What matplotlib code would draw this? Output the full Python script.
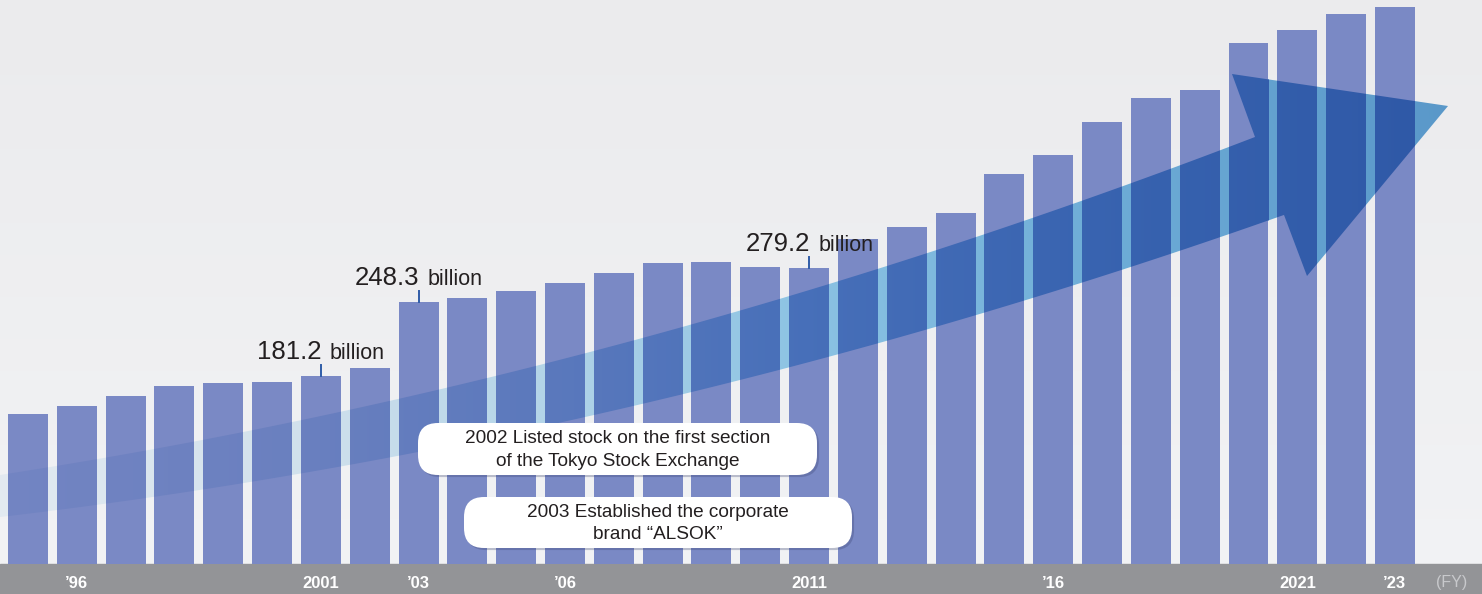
import numpy as np
import matplotlib
matplotlib.use("Agg")
import matplotlib.pyplot as plt
from matplotlib.path import Path
from matplotlib.patches import PathPatch, FancyBboxPatch, Rectangle
import matplotlib.patheffects as pe

plt.rcParams['font.family'] = ['Liberation Sans', 'DejaVu Sans']

# net sales, billion yen (FY)
years = list(range(1995, 2024))
sales = [146.5, 153.8, 162.8, 171.9, 174.6, 175.5, 181.2, 188.2, 248.3, 251.9,
         258.3, 265.5, 274.6, 283.7, 284.6, 279.5, 279.2, 305.0, 316.0, 328.7,
         364.0, 381.2, 411.1, 432.9, 440.1, 482.7, 494.5, 509.0, 515.3]
tick_years = [1996, 2001, 2003, 2006, 2011, 2016, 2021, 2023]
tick_labels = ["\u201996", "2001", "\u201903", "\u201906", "2011", "\u201916", "2021", "\u201923"]
mark_years = [2001, 2003, 2011]
mark_values = [181.2, 248.3, 279.2]
events = ["2002 Listed stock on the first section\nof the Tokyo Stock Exchange",
          "2003 Established the corporate\nbrand \u201cALSOK\u201d"]

W, H = 1482, 594
BAR_RGB = np.array([122, 137, 197])
fig = plt.figure(figsize=(W / 100, H / 100), dpi=100)

# background layer in pixel coords
ax_bg = fig.add_axes([0, 0, 1, 1], zorder=0)
ax_bg.set_xlim(0, W)
ax_bg.set_ylim(H, 0)
ax_bg.axis('off')

t = np.linspace(0, 1, H)[:, None, None]
bg_top = np.array([235, 235, 237])
bg_bot = np.array([242, 243, 245])
bg = bg_top + (bg_bot - bg_top) * t  # (H,1,3)
ax_bg.imshow(bg / 255, extent=[0, W, H, 0], aspect='auto', interpolation='bilinear', zorder=0)
ax_bg.add_patch(Rectangle((0, 564), W, 30, color='#939497', zorder=1))

# big arrow (decoration)
def up_edge(x):
    return 475 - 0.1545 * x - 9.15e-5 * x ** 2

def lo_edge(x):
    return 517 - 0.117 * x - 9.21e-5 * x ** 2

xu = np.linspace(-5, 1255, 80)
xl = np.linspace(1284, -5, 80)
verts = list(zip(xu, up_edge(xu))) + [(1232, 74), (1448, 106), (1307, 276)] + list(zip(xl, lo_edge(xl)))
verts.append(verts[0])
arrow = PathPatch(Path(verts, closed=True), transform=ax_bg.transData, fc='none', ec='none')

stop_x = [0, 300, 550, 800, 1100, 1482]
stop_c = np.array([[240, 247, 252], [222, 238, 248], [190, 225, 244],
                   [150, 208, 240], [118, 185, 228], [95, 162, 214]])

def tint(px):
    return np.stack([np.interp(px, stop_x, stop_c[:, k]) for k in range(3)], -1)

light = tint(np.arange(W) + 0.5)[None, :, :] * bg / 255 / 255
im = ax_bg.imshow(light, extent=[0, W, H, 0], aspect='auto', zorder=2)
im.set_clip_path(arrow)

# bars
ax = fig.add_axes([0, 30 / H, 1, 564 / H], zorder=1)
ax.patch.set_alpha(0)
ax.set_xlim(1995 - 28 / 48.82, 1995 + (W - 28) / 48.82)
ax.set_ylim(10.6, 521.7)
bars = ax.bar(years, sales, width=40 / 48.82, color=BAR_RGB / 255, zorder=2)

for rect in bars:
    x0 = rect.get_x()
    x1 = x0 + rect.get_width()
    p0 = ax.transData.transform((x0, 0))[0]
    p1 = ax.transData.transform((x1, 0))[0]
    cols = tint(np.linspace(p0, p1, 16)) * BAR_RGB / 255 / 255
    bi = ax.imshow(cols[None], extent=[x0, x1, 0, rect.get_height()], aspect='auto',
                   interpolation='bilinear', zorder=3)
    bi.set_clip_path(arrow)

ax.set_xlim(1995 - 28 / 48.82, 1995 + (W - 28) / 48.82)
ax.set_ylim(10.6, 521.7)

for yr, val in zip(mark_years, mark_values):
    ax.plot([yr, yr], [val, val + 10], color='#2f5ca8', lw=1.4, zorder=4)
    ax.annotate(f"{val:.1f}", xy=(yr, val), xytext=(1, 17), textcoords='offset pixels',
                ha='right', va='baseline', fontsize=18.5, color='#231f20')
    ax.annotate("billion", xy=(yr, val), xytext=(9, 17), textcoords='offset pixels',
                ha='left', va='baseline', fontsize=15.5, color='#231f20')

ax.set_xticks(tick_years, tick_labels)
ax.tick_params(axis='x', length=0, pad=8.5, labelcolor='white', labelsize=12)
for lab in ax.get_xticklabels():
    lab.set_fontweight('bold')
ax.set_yticks([])
for s in ax.spines.values():
    s.set_visible(False)

# callouts
ax_top = fig.add_axes([0, 0, 1, 1], zorder=3)
ax_top.set_xlim(0, W)
ax_top.set_ylim(H, 0)
ax_top.axis('off')
ax_top.patch.set_alpha(0)

boxes = [(418, 423, 399, 52), (464, 497, 388, 51)]
spacing = [1.48, 1.38]
for (bx, by, bw, bh), txt, ls in zip(boxes, events, spacing):
    box = FancyBboxPatch((bx, by), bw, bh, boxstyle='round,pad=0,rounding_size=20',
                         fc='white', ec='none', zorder=2,
                         path_effects=[pe.SimplePatchShadow(offset=(1.5, -1.5), shadow_rgbFace='#3a4370', alpha=0.3),
                                       pe.Normal()])
    ax_top.add_patch(box)
    ax_top.text(bx + bw / 2, by + bh / 2 + 1, txt, ha='center', va='center', fontsize=13.7,
                linespacing=ls, color='#231f20', multialignment='center', zorder=3)

ax_top.text(1452, 582, "(FY)", ha='center', va='center', fontsize=11.5, color='#c8c9cc')

fig.savefig("out.png", dpi=100)
